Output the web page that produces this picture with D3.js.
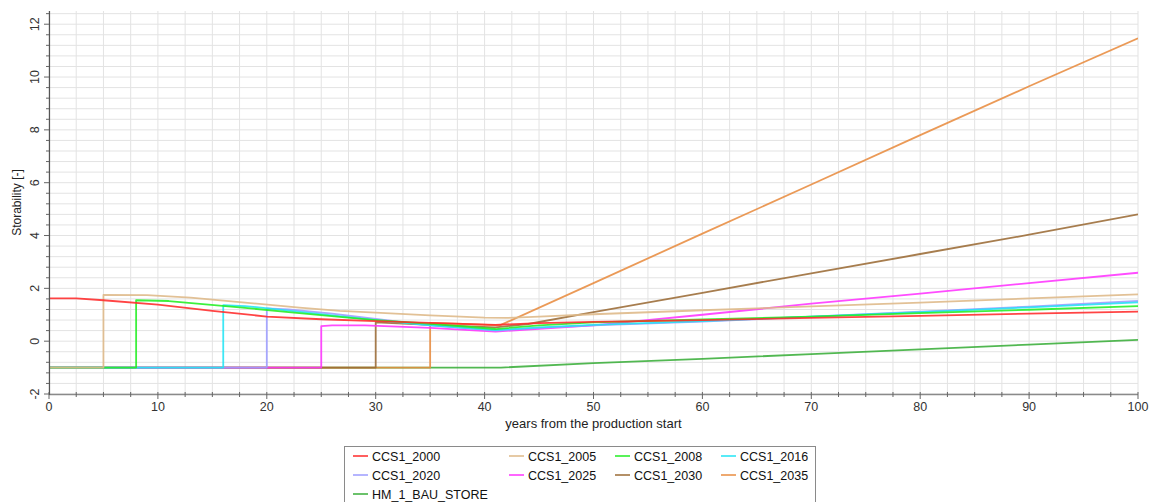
<!DOCTYPE html>
<html>
<head>
<meta charset="utf-8">
<script src="https://cdn.jsdelivr.net/npm/d3@7"></script>
<style>
  html, body { margin: 0; padding: 0; background: #fff; }
  svg { display: block; font-family: "Liberation Sans", Arial, sans-serif; }
</style>
</head>
<body>
<svg id="chart" width="1157" height="502"></svg>
<script>
// ---------- data ----------
const seriesNames = ["CCS1_2000","CCS1_2005","CCS1_2008","CCS1_2016","CCS1_2020","CCS1_2025","CCS1_2030","CCS1_2035","HM_1_BAU_STORE"];
const seriesColors = ["#ff2a2a","#deb887","#22ee22","#22e4f4","#9c9cff","#ff33ff","#9b6b35","#e88c40","#3aae3a"];

const ccs1_2000 = [[0,1.62],[2.5,1.62],[5,1.55],[10,1.38],[15,1.15],[20,0.93],[25,0.83],[30,0.76],[35,0.69],[41,0.62],[45,0.68],[50,0.73],[60,0.8],[70,0.88],[80,0.96],[90,1.04],[100,1.12]];
const ccs1_2005 = [[0,-1],[5,-1],[5,1.75],[9,1.74],[13,1.65],[17.5,1.48],[23,1.27],[26.7,1.15],[30,1.08],[35,0.98],[40,0.89],[42,0.88],[45,0.93],[50,1.02],[60,1.17],[70,1.32],[80,1.46],[90,1.62],[100,1.77]];
const ccs1_2008 = [[0,-1],[8,-1],[8,1.55],[11,1.52],[17.5,1.28],[22,1.1],[26.7,0.92],[30,0.8],[35,0.66],[41,0.46],[45,0.6],[50,0.71],[60,0.82],[70,0.93],[80,1.06],[90,1.19],[100,1.33]];
const ccs1_2016 = [[0,-1],[16,-1],[16,1.36],[18,1.33],[22,1.16],[26,0.98],[30,0.8],[35,0.6],[41,0.42],[45,0.52],[50,0.62],[60,0.76],[70,0.93],[80,1.1],[90,1.28],[100,1.47]];
const ccs1_2020 = [[0,-1],[20,-1],[20,1.24],[22,1.2],[26,1.04],[30,0.84],[35,0.6],[41,0.4],[45,0.5],[50,0.6],[60,0.74],[70,0.93],[80,1.12],[90,1.31],[100,1.52]];
const ccs1_2025 = [[0,-1],[25,-1],[25,0.57],[26,0.6],[29,0.6],[35,0.5],[41,0.36],[45,0.47],[50,0.6],[60,1.0],[70,1.42],[80,1.8],[90,2.2],[100,2.59]];
const ccs1_2030 = [[0,-1],[30,-1],[30,0.71],[35,0.62],[41,0.52],[44,0.65],[50,1.1],[60,1.83],[70,2.57],[80,3.3],[90,4.03],[100,4.8]];
const ccs1_2035 = [[0,-1],[35,-1],[35,0.69],[38,0.65],[41.4,0.6],[50,2.2],[60,4.07],[70,5.93],[80,7.8],[90,9.65],[100,11.47]];
const hm_1_bau_store = [[0,-1],[41.5,-1],[50,-0.83],[60,-0.67],[70,-0.49],[80,-0.31],[90,-0.13],[100,0.05]];
const seriesData = [ccs1_2000, ccs1_2005, ccs1_2008, ccs1_2016, ccs1_2020, ccs1_2025, ccs1_2030, ccs1_2035, hm_1_bau_store];

const xTicks = [0,10,20,30,40,50,60,70,80,90,100];
const yTicks = [-2,0,2,4,6,8,10,12];
const xTitle = "years from the production start";
const yTitle = "Storability [-]";

// ---------- layout ----------
const svg = d3.select("#chart");
const L = 49, R = 1138, T = 11, B = 394;
const x = d3.scaleLinear().domain([0,100]).range([L,R]);
const y = d3.scaleLinear().domain([-2,12.5]).range([B,T]);

// grid
const g = svg.append("g");
const xMinor = d3.range(0, 100.01, 2.5);
const yMinor = d3.range(-2, 12.41, 0.4);
g.selectAll("line.vg").data(xMinor).enter().append("line")
  .attr("x1", d => x(d)).attr("x2", d => x(d)).attr("y1", T).attr("y2", B)
  .attr("stroke", "#e3e3e3").attr("stroke-width", 1);
g.selectAll("line.hg").data(yMinor).enter().append("line")
  .attr("x1", L).attr("x2", R).attr("y1", d => y(d)).attr("y2", d => y(d))
  .attr("stroke", "#e3e3e3").attr("stroke-width", 1);

// clip
svg.append("clipPath").attr("id","clip").append("rect")
  .attr("x", L).attr("y", T).attr("width", R-L).attr("height", B-T+1);

// lines (drawn in reverse so earlier scenarios sit on top)
const line = d3.line().x(d => x(d[0])).y(d => y(d[1]));
const lg = svg.append("g").attr("clip-path","url(#clip)");
for (let i = seriesData.length - 1; i >= 0; i--) {
  lg.append("path").datum(seriesData[i])
    .attr("d", line).attr("fill","none")
    .attr("stroke", seriesColors[i]).attr("stroke-width", 1.8)
    .attr("stroke-opacity", 0.88).attr("stroke-linejoin","round");
}

// x axis
const xa = svg.append("g");
xa.append("line").attr("x1", L).attr("x2", R).attr("y1", B+0.5).attr("y2", B+0.5)
  .attr("stroke", "#8a8a8a").attr("stroke-width", 1.5);
xa.selectAll("line.xt").data(xMinor).enter().append("line")
  .attr("x1", d => x(d)).attr("x2", d => x(d))
  .attr("y1", B-2).attr("y2", d => (d % 10 === 0) ? B+5 : B+3)
  .attr("stroke", "#666").attr("stroke-width", 1);
xa.selectAll("text").data(xTicks).enter().append("text")
  .attr("x", d => x(d)).attr("y", 411)
  .attr("text-anchor","middle").attr("font-size", 12.5).attr("fill","#333")
  .text(d => d);
svg.append("text").attr("x", (L+R)/2).attr("y", 428)
  .attr("text-anchor","middle").attr("font-size", 13).attr("fill","#222")
  .text(xTitle);

// y axis
const ya = svg.append("g");
ya.append("line").attr("x1", L+0.5).attr("x2", L+0.5).attr("y1", T).attr("y2", B+1)
  .attr("stroke", "#555").attr("stroke-width", 1.2);
ya.selectAll("line.yt").data(yMinor).enter().append("line")
  .attr("x1", d => (Math.abs(d/2 - Math.round(d/2)) < 1e-6) ? L-5 : L-3).attr("x2", L)
  .attr("y1", d => y(d)).attr("y2", d => y(d))
  .attr("stroke", "#666").attr("stroke-width", 1);
ya.selectAll("text").data(yTicks).enter().append("text")
  .attr("transform", d => `translate(${39},${y(d)}) rotate(-90)`)
  .attr("text-anchor","middle").attr("font-size", 12.5).attr("fill","#333")
  .text(d => d);
svg.append("text").attr("transform", `translate(21,${(T+B)/2}) rotate(-90)`)
  .attr("text-anchor","middle").attr("font-size", 12).attr("fill","#222")
  .text(yTitle);

// legend
const leg = svg.append("g");
leg.append("rect").attr("x", 344.5).attr("y", 446.5).attr("width", 471).attr("height", 70)
  .attr("fill","#fff").attr("stroke","#8a8a8a").attr("stroke-width",1);
const colX = [353, 509, 615, 721];
const rowY = [456, 475, 494];
seriesNames.forEach((name, i) => {
  const cx = colX[i % 4], cy = rowY[Math.floor(i / 4)];
  leg.append("line").attr("x1", cx).attr("x2", cx+15).attr("y1", cy).attr("y2", cy)
    .attr("stroke", seriesColors[i]).attr("stroke-width", 1.5);
  leg.append("text").attr("x", cx+19).attr("y", cy+4.5)
    .attr("font-size", 12.5).attr("fill","#111").text(name);
});
</script>
</body>
</html>
